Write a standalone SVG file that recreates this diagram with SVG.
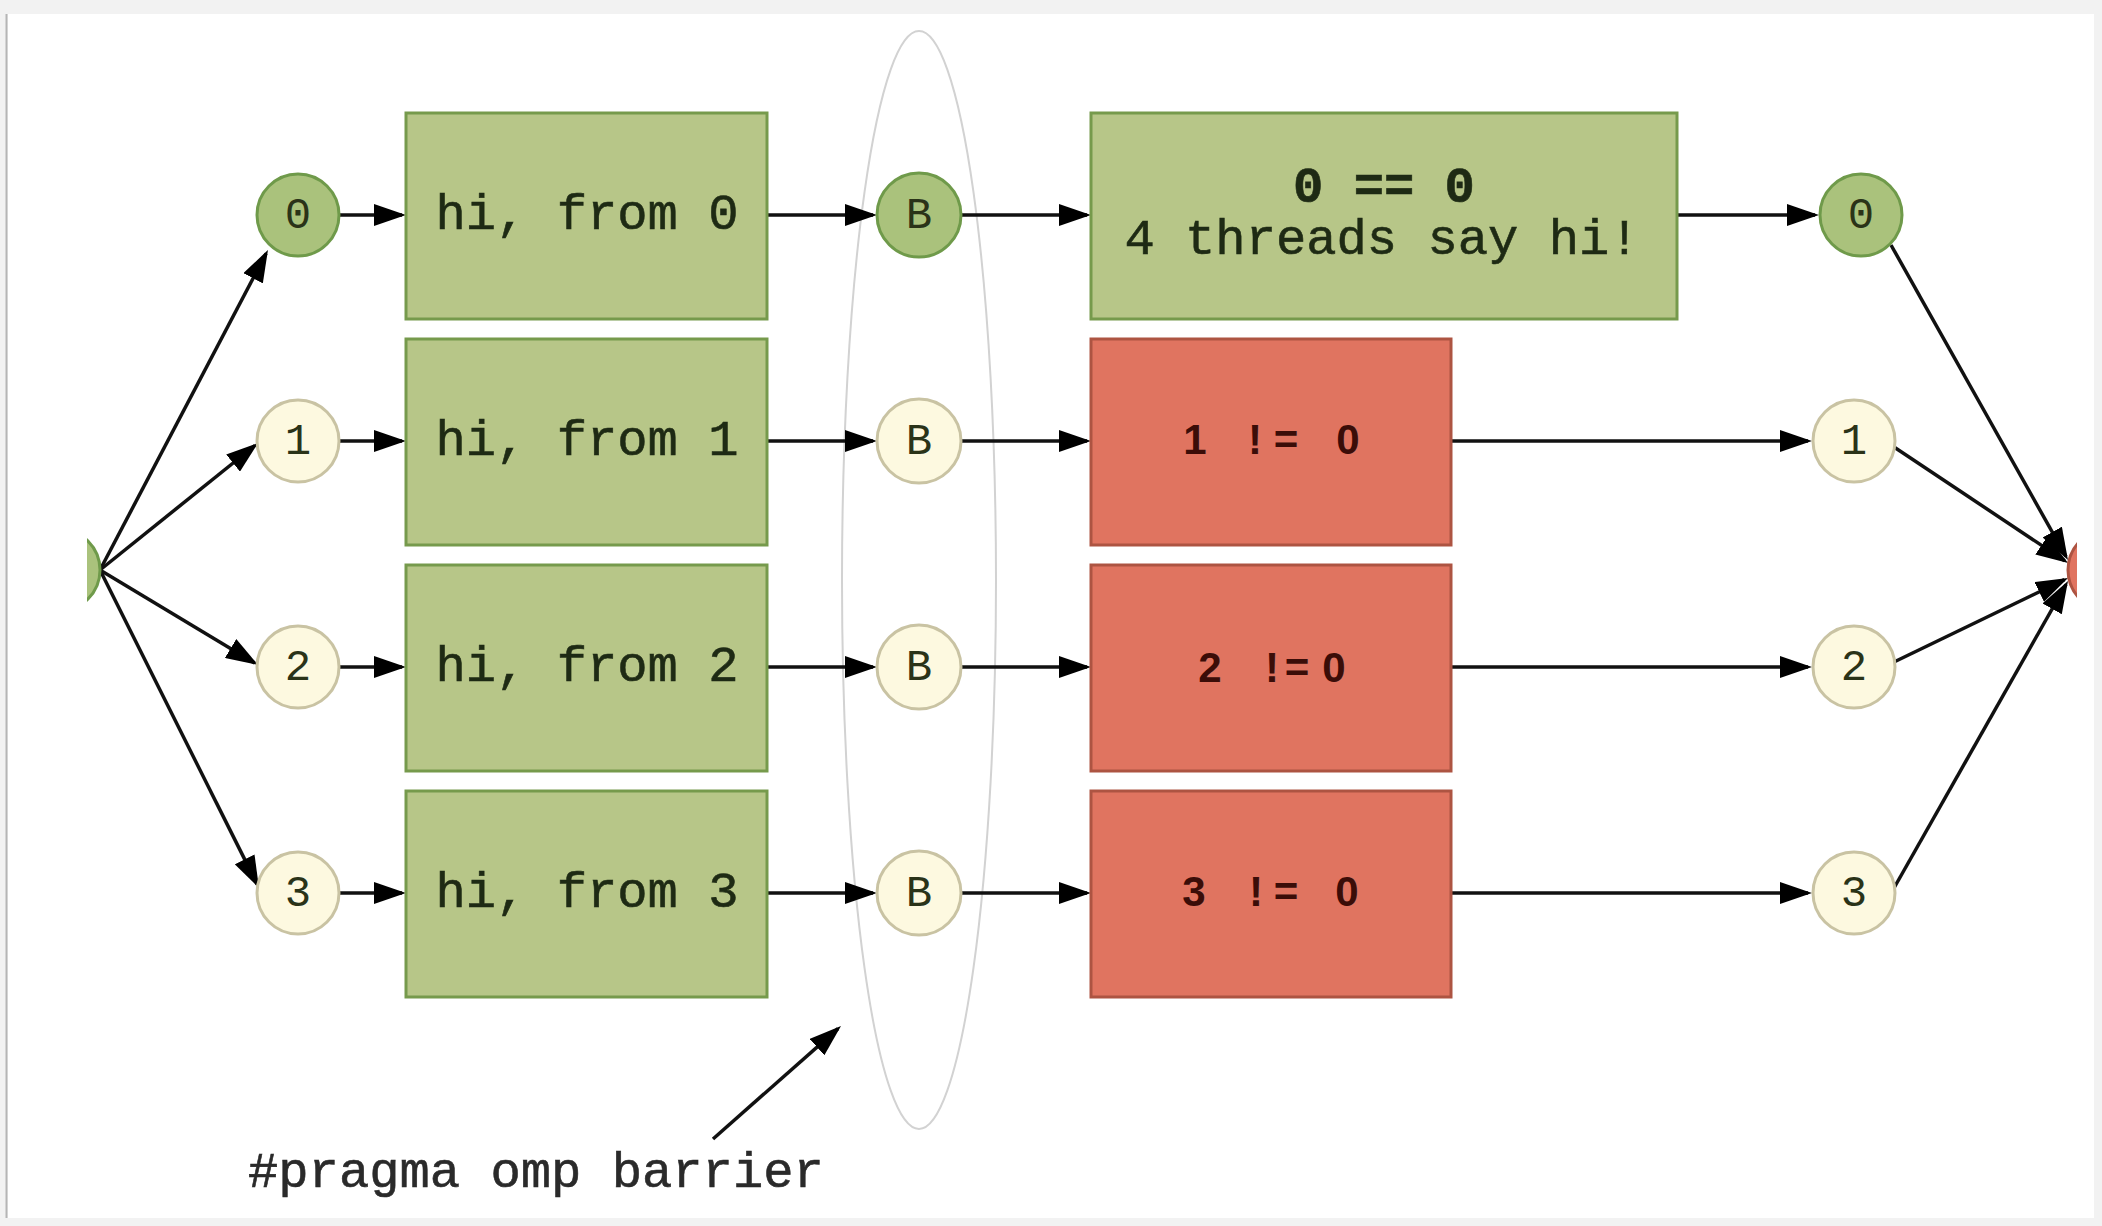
<svg xmlns="http://www.w3.org/2000/svg" width="2102" height="1226" viewBox="0 0 2102 1226">
<style>
.gbox{fill:#b7c688;stroke:#769a4c;stroke-width:3}
.rbox{fill:#e07460;stroke:#ad5442;stroke-width:3}
.gcir{fill:#aac27c;stroke:#6f9a4a;stroke-width:3}
.pcir{fill:#fdf9e0;stroke:#c9c3a3;stroke-width:3}
.mono{font-family:"Liberation Mono","DejaVu Sans Mono",monospace;fill:#1e2a14}
.big{font-size:50.5px;stroke:#1e2a14;stroke-width:0.6}
.lab{font-size:44px;fill:#2a3318}
.bold{font-weight:bold}
.red{font-family:"Liberation Sans",Arial,sans-serif;font-weight:bold;font-size:42px;fill:#3b0d08}
.edge{stroke:#111;stroke-width:3.5;fill:none}
</style>
<defs>
<marker id="ah" viewBox="0 0 32 22" refX="28" refY="11" markerWidth="32" markerHeight="22" markerUnits="userSpaceOnUse" orient="auto">
<path d="M0,0 L32,11 L0,22 z" fill="#000"/>
</marker>
<clipPath id="clipL"><rect x="87" y="0" width="100" height="1226"/></clipPath>
<clipPath id="clipR"><rect x="2000" y="0" width="77" height="1226"/></clipPath>
</defs>
<rect x="0" y="0" width="2102" height="1226" fill="#f2f2f2"/>
<rect x="8" y="14" width="2086" height="1204" fill="#ffffff"/>
<line x1="6.5" y1="14" x2="6.5" y2="1218" stroke="#b5b5b5" stroke-width="2"/>

<g id="barrier-ellipse">
<ellipse cx="919" cy="580" rx="77" ry="549" fill="none" stroke="#d2d2d2" stroke-width="2"/>
</g>

<g id="connectors">
<line class="edge" x1="100" y1="570" x2="266.1" y2="253.5" marker-end="url(#ah)"/>
<line class="edge" x1="100" y1="570" x2="254.9" y2="445.5" marker-end="url(#ah)"/>
<line class="edge" x1="100" y1="570" x2="254.6" y2="662.9" marker-end="url(#ah)"/>
<line class="edge" x1="100" y1="570" x2="257.2" y2="884.4" marker-end="url(#ah)"/>

<line class="edge" x1="340" y1="215" x2="402" y2="215" marker-end="url(#ah)"/>
<line class="edge" x1="340" y1="441" x2="402" y2="441" marker-end="url(#ah)"/>
<line class="edge" x1="340" y1="667" x2="402" y2="667" marker-end="url(#ah)"/>
<line class="edge" x1="340" y1="893" x2="402" y2="893" marker-end="url(#ah)"/>

<line class="edge" x1="767" y1="215" x2="873" y2="215" marker-end="url(#ah)"/>
<line class="edge" x1="767" y1="441" x2="873" y2="441" marker-end="url(#ah)"/>
<line class="edge" x1="767" y1="667" x2="873" y2="667" marker-end="url(#ah)"/>
<line class="edge" x1="767" y1="893" x2="873" y2="893" marker-end="url(#ah)"/>

<line class="edge" x1="961" y1="215" x2="1087" y2="215" marker-end="url(#ah)"/>
<line class="edge" x1="961" y1="441" x2="1087" y2="441" marker-end="url(#ah)"/>
<line class="edge" x1="961" y1="667" x2="1087" y2="667" marker-end="url(#ah)"/>
<line class="edge" x1="961" y1="893" x2="1087" y2="893" marker-end="url(#ah)"/>

<line class="edge" x1="1677" y1="215" x2="1815" y2="215" marker-end="url(#ah)"/>
<line class="edge" x1="1451" y1="441" x2="1808" y2="441" marker-end="url(#ah)"/>
<line class="edge" x1="1451" y1="667" x2="1808" y2="667" marker-end="url(#ah)"/>
<line class="edge" x1="1451" y1="893" x2="1808" y2="893" marker-end="url(#ah)"/>

<line class="edge" x1="1891" y1="245" x2="2066" y2="556.5" marker-end="url(#ah)"/>
<line class="edge" x1="1894" y1="447" x2="2064.7" y2="560.8" marker-end="url(#ah)"/>
<line class="edge" x1="1894" y1="662" x2="2064.4" y2="579.7" marker-end="url(#ah)"/>
<line class="edge" x1="1894" y1="888" x2="2066" y2="584.5" marker-end="url(#ah)"/>

<line class="edge" x1="713" y1="1139" x2="838" y2="1028.6" marker-end="url(#ah)"/>
</g>

<g id="start"><circle class="gcir" cx="59" cy="570" r="41" clip-path="url(#clipL)"/></g>
<g id="end"><circle cx="2109" cy="570" r="41" fill="#e07460" stroke="#ad5442" stroke-width="3" clip-path="url(#clipR)"/></g>

<g id="t0"><circle class="gcir" cx="298" cy="215" r="41"/><text class="mono lab" x="298" y="228" text-anchor="middle">0</text></g>
<g id="t1"><circle class="pcir" cx="298" cy="441" r="41"/><text class="mono lab" x="298" y="454" text-anchor="middle">1</text></g>
<g id="t2"><circle class="pcir" cx="298" cy="667" r="41"/><text class="mono lab" x="298" y="680" text-anchor="middle">2</text></g>
<g id="t3"><circle class="pcir" cx="298" cy="893" r="41"/><text class="mono lab" x="298" y="906" text-anchor="middle">3</text></g>

<g id="hi0"><rect class="gbox" x="406" y="113" width="361" height="206"/><text class="mono big" x="587" y="229" text-anchor="middle">hi, from 0</text></g>
<g id="hi1"><rect class="gbox" x="406" y="339" width="361" height="206"/><text class="mono big" x="587" y="455" text-anchor="middle">hi, from 1</text></g>
<g id="hi2"><rect class="gbox" x="406" y="565" width="361" height="206"/><text class="mono big" x="587" y="681" text-anchor="middle">hi, from 2</text></g>
<g id="hi3"><rect class="gbox" x="406" y="791" width="361" height="206"/><text class="mono big" x="587" y="907" text-anchor="middle">hi, from 3</text></g>

<g id="b0"><circle class="gcir" cx="919" cy="215" r="42"/><text class="mono lab" x="919" y="228" text-anchor="middle">B</text></g>
<g id="b1"><circle class="pcir" cx="919" cy="441" r="42"/><text class="mono lab" x="919" y="454" text-anchor="middle">B</text></g>
<g id="b2"><circle class="pcir" cx="919" cy="667" r="42"/><text class="mono lab" x="919" y="680" text-anchor="middle">B</text></g>
<g id="b3"><circle class="pcir" cx="919" cy="893" r="42"/><text class="mono lab" x="919" y="906" text-anchor="middle">B</text></g>

<g id="m0"><rect class="gbox" x="1091" y="113" width="586" height="206"/>
<text class="mono big bold" x="1384" y="202" text-anchor="middle">0 == 0</text>
<text class="mono big" x="1382" y="254" text-anchor="middle">4 threads say hi!</text></g>
<g id="m1"><rect class="rbox" x="1091" y="339" width="360" height="206"/>
<text class="red" x="1195 1225 1255 1286 1316 1348" y="454" text-anchor="middle">1 != 0</text></g>
<g id="m2"><rect class="rbox" x="1091" y="565" width="360" height="206"/>
<text class="red" x="1210 1240 1272 1297 1334" y="682" text-anchor="middle">2 !=0</text></g>
<g id="m3"><rect class="rbox" x="1091" y="791" width="360" height="206"/>
<text class="red" x="1194 1225 1256 1286 1316 1347" y="906" text-anchor="middle">3 != 0</text></g>

<g id="r0"><circle class="gcir" cx="1861" cy="215" r="41"/><text class="mono lab" x="1861" y="228" text-anchor="middle">0</text></g>
<g id="r1"><circle class="pcir" cx="1854" cy="441" r="41"/><text class="mono lab" x="1854" y="454" text-anchor="middle">1</text></g>
<g id="r2"><circle class="pcir" cx="1854" cy="667" r="41"/><text class="mono lab" x="1854" y="680" text-anchor="middle">2</text></g>
<g id="r3"><circle class="pcir" cx="1854" cy="893" r="41"/><text class="mono lab" x="1854" y="906" text-anchor="middle">3</text></g>

<g id="note"><text class="mono big" x="248" y="1187" style="fill:#2a2a2a;stroke:#2a2a2a">#pragma omp barrier</text></g>
</svg>
